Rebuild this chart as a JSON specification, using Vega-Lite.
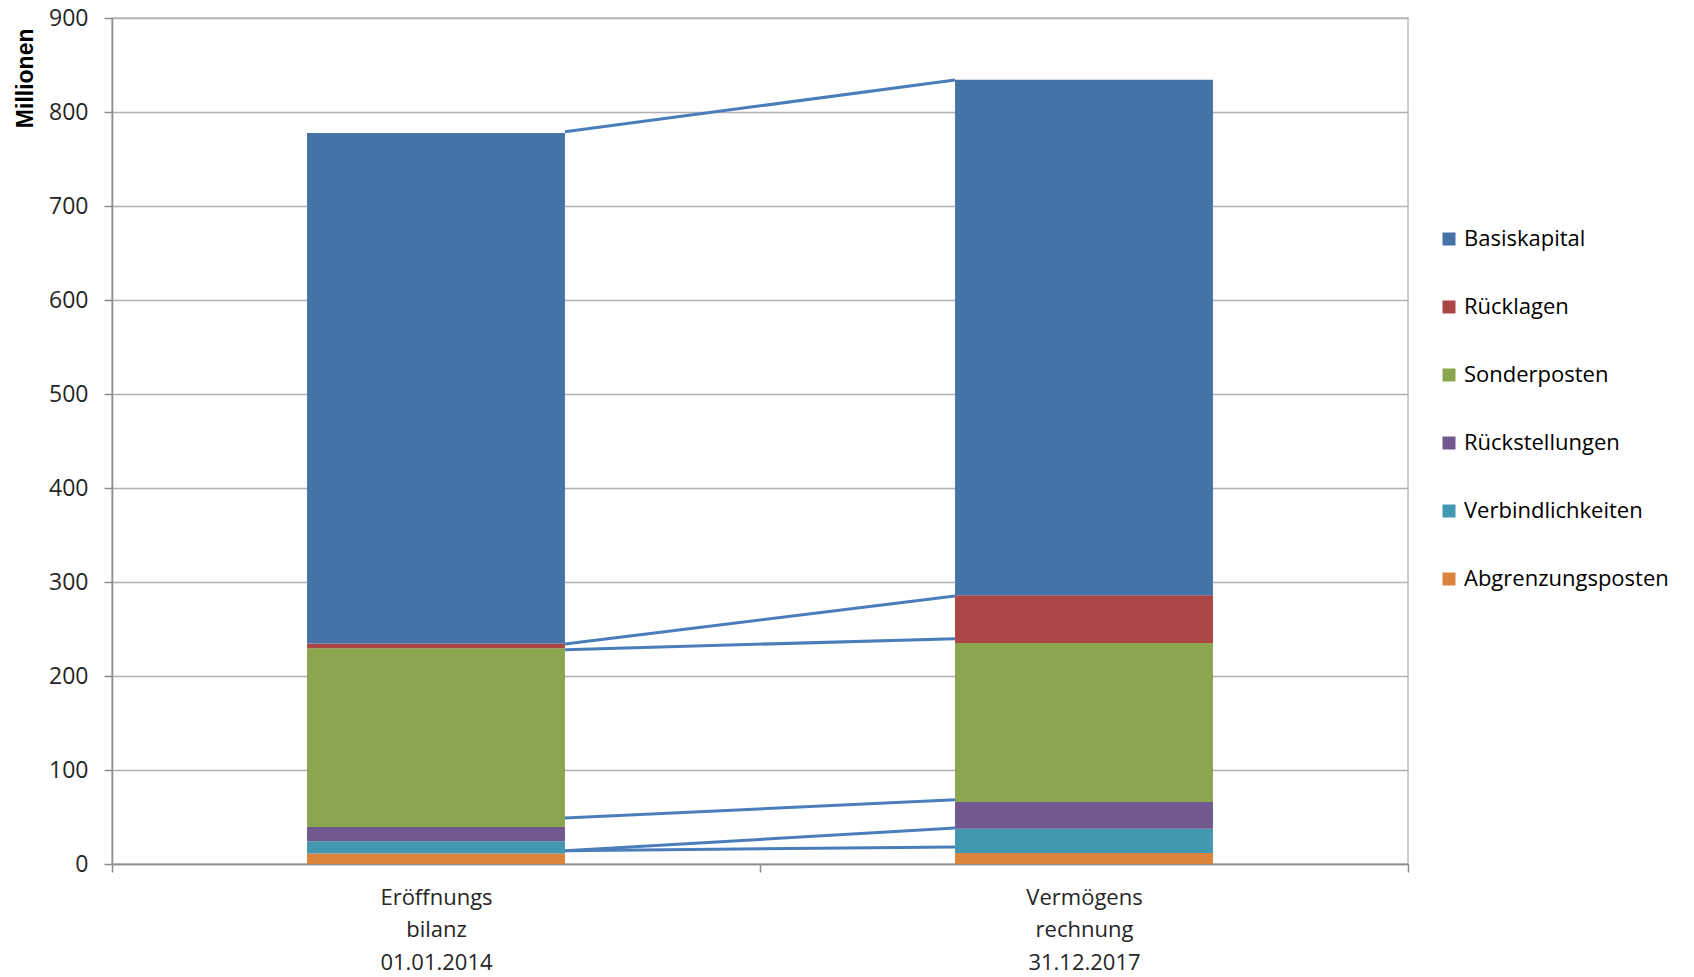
{
  "$schema": "https://vega.github.io/schema/vega-lite/v6.json",
  "width": 1296,
  "height": 846,
  "autosize": {"type": "none"},
  "padding": {"left": 112, "top": 18, "right": 286, "bottom": 113},
  "background": "white",
  "config": {
    "view": {"stroke": "#c0c0c0", "strokeWidth": 1.5},
    "font": "Open Sans",
    "axis": {"labelFont": "Open Sans", "labelColor": "#262626", "titleColor": "#000000"}
  },
  "datasets": {
    "stack": [
      {"stelle": "Eröffnungs bilanz 01.01.2014", "posten": "Abgrenzungsposten", "rang": 1, "wert": 11.3},
      {"stelle": "Eröffnungs bilanz 01.01.2014", "posten": "Verbindlichkeiten", "rang": 2, "wert": 13.0},
      {"stelle": "Eröffnungs bilanz 01.01.2014", "posten": "Rückstellungen", "rang": 3, "wert": 15.1},
      {"stelle": "Eröffnungs bilanz 01.01.2014", "posten": "Sonderposten", "rang": 4, "wert": 190.2},
      {"stelle": "Eröffnungs bilanz 01.01.2014", "posten": "Rücklagen", "rang": 5, "wert": 5.0},
      {"stelle": "Eröffnungs bilanz 01.01.2014", "posten": "Basiskapital", "rang": 6, "wert": 543.0},
      {"stelle": "Vermögens rechnung 31.12.2017", "posten": "Abgrenzungsposten", "rang": 1, "wert": 11.7},
      {"stelle": "Vermögens rechnung 31.12.2017", "posten": "Verbindlichkeiten", "rang": 2, "wert": 25.9},
      {"stelle": "Vermögens rechnung 31.12.2017", "posten": "Rückstellungen", "rang": 3, "wert": 28.4},
      {"stelle": "Vermögens rechnung 31.12.2017", "posten": "Sonderposten", "rang": 4, "wert": 169.1},
      {"stelle": "Vermögens rechnung 31.12.2017", "posten": "Rücklagen", "rang": 5, "wert": 50.7},
      {"stelle": "Vermögens rechnung 31.12.2017", "posten": "Basiskapital", "rang": 6, "wert": 548.6}
    ],
    "linien": [
      {"von": "Eröffnungs bilanz 01.01.2014", "nach": "Vermögens rechnung 31.12.2017", "anfang": 779, "ende": 834},
      {"von": "Eröffnungs bilanz 01.01.2014", "nach": "Vermögens rechnung 31.12.2017", "anfang": 234, "ende": 285},
      {"von": "Eröffnungs bilanz 01.01.2014", "nach": "Vermögens rechnung 31.12.2017", "anfang": 228, "ende": 239.7},
      {"von": "Eröffnungs bilanz 01.01.2014", "nach": "Vermögens rechnung 31.12.2017", "anfang": 49, "ende": 68.4},
      {"von": "Eröffnungs bilanz 01.01.2014", "nach": "Vermögens rechnung 31.12.2017", "anfang": 14.1, "ende": 38.3},
      {"von": "Eröffnungs bilanz 01.01.2014", "nach": "Vermögens rechnung 31.12.2017", "anfang": 14.1, "ende": 18.1}
    ]
  },
  "layer": [
    {
      "data": {"name": "stack"},
      "mark": {"type": "bar", "width": {"band": 0.398}},
      "encoding": {
        "x": {
          "field": "stelle", "type": "nominal", "sort": null,
          "scale": {"paddingInner": 0, "paddingOuter": 0},
          "axis": {
            "title": null, "labelAngle": 0, "labelExpr": "split(datum.label, ' ')",
            "labelFontSize": 22, "labelLineHeight": 32.5, "labelPadding": 15,
            "tickBand": "extent", "tickSize": 8, "tickColor": "#8c8c8c", "tickWidth": 1.5,
            "domainColor": "#8c8c8c", "domainWidth": 1.5, "labelBaseline": "top"
          }
        },
        "y": {
          "field": "wert", "type": "quantitative", "stack": "zero",
          "scale": {"domain": [0, 900], "nice": false},
          "axis": {
            "title": "Millionen", "titleFont": "Liberation Sans", "titleFontWeight": "bold", "titleFontSize": 23,
            "titleAngle": -90, "titleAlign": "right", "titleBaseline": "middle", "titleX": -87, "titleY": 10,
            "values": [0, 100, 200, 300, 400, 500, 600, 700, 800, 900],
            "labelFontSize": 23, "labelPadding": 16, "tickSize": 8, "tickColor": "#8c8c8c", "tickWidth": 1.5,
            "domainColor": "#8c8c8c", "domainWidth": 1.5,
            "grid": true, "gridColor": "#b0b0b0", "gridWidth": 1.5
          }
        },
        "color": {
          "field": "posten", "type": "nominal",
          "scale": {
            "domain": ["Basiskapital", "Rücklagen", "Sonderposten", "Rückstellungen", "Verbindlichkeiten", "Abgrenzungsposten"],
            "range": ["#4572a7", "#aa4643", "#89a54e", "#71588f", "#4198af", "#db843d"]
          },
          "legend": {
            "title": null, "orient": "none", "legendX": 1326, "legendY": 210,
            "symbolType": "square", "symbolSize": 169, "symbolStrokeWidth": 0,
            "labelFontSize": 22, "labelColor": "#000000", "labelFont": "Open Sans", "labelLimit": 0,
            "rowPadding": 46, "labelOffset": 4
          }
        },
        "order": {"field": "rang", "type": "quantitative"}
      }
    },
    {
      "data": {"name": "linien"},
      "mark": {"type": "rule", "color": "#4a7ebb", "strokeWidth": 3},
      "encoding": {
        "x": {"field": "von", "type": "nominal", "bandPosition": 0.699},
        "x2": {"field": "nach", "bandPosition": 0.301},
        "y": {"field": "anfang", "type": "quantitative"},
        "y2": {"field": "ende"}
      }
    }
  ]
}
